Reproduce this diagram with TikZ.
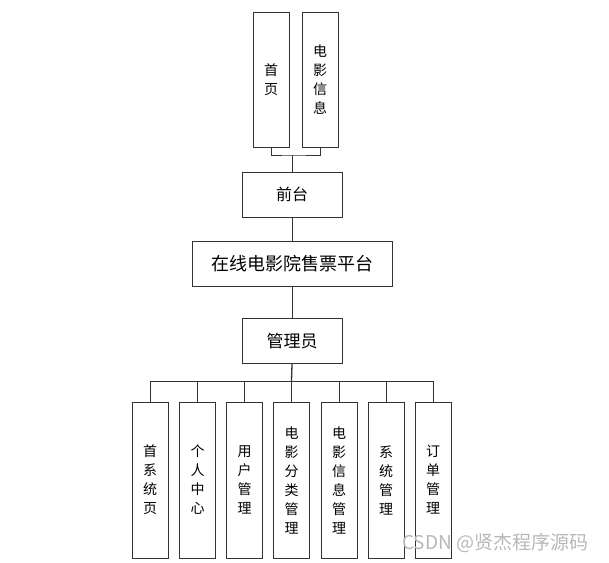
\documentclass[tikz,border=0pt]{standalone}
\usepackage{fontspec}
\newfontfamily\cjk{Noto Sans CJK SC}
\usepackage{tikz}
\usetikzlibrary{positioning}

\begin{document}
\begin{tikzpicture}[x=1pt,y=-1pt,
  box/.style={draw=black!80,line width=0.9pt,fill=white,minimum width=100pt,minimum height=45pt,inner sep=0pt,font=\cjk\fontsize{16}{16}\selectfont},
  tallbox/.style={draw=black!80,line width=0.9pt,fill=white,minimum width=36pt,inner sep=0pt,align=center,font=\cjk\fontsize{14}{19}\selectfont},
  link/.style={draw=black!80,line width=0.9pt}]
\useasboundingbox (0,0) rectangle (609,562);
% top level
\node[tallbox,minimum height=135pt] (shouye) at (271,79.5) {首\\页};
\node[tallbox,minimum height=135pt] (dyxx) at (320,79.5) {电\\影\\信\\息};
\node[box] (qiantai) at (292,194.5) {前台};
\node[box,minimum width=200pt,font=\cjk\fontsize{18}{18}\selectfont] (pingtai) at (292,264) {在线电影院售票平台};
\node[box,font=\cjk\fontsize{17}{17}\selectfont] (guanli) at (292,341) {管理员};
% bottom row
\node[tallbox,minimum height=156pt] (xtsy) at (150,480) {首\\系\\统\\页};
\node[tallbox,minimum height=156pt] (grzx) at (197.5,480) {个\\人\\中\\心};
\node[tallbox,minimum height=156pt] (yhgl) at (244.5,480) {用\\户\\管\\理};
\node[tallbox,minimum height=156pt] (flgl) at (291.5,480) {电\\影\\分\\类\\管\\理};
\node[tallbox,minimum height=156pt] (xxgl) at (339,480) {电\\影\\信\\息\\管\\理};
\node[tallbox,minimum height=156pt] (xtgl) at (386,480) {系\\统\\管\\理};
\node[tallbox,minimum height=156pt] (ddgl) at (433,480) {订\\单\\管\\理};
% connectors
\coordinate (topbus) at (292,155);
\coordinate (bus) at (291.5,381);
\draw[link] (shouye.south) |- (topbus) -| (dyxx.south);
\draw[link] (topbus) -- (qiantai.north);
\draw[link] (qiantai.south) -- (pingtai.north);
\draw[link] (pingtai.south) -- (guanli.north);
\draw[link,line width=1.3pt] (guanli.south) -- (bus);
\foreach \n in {xtsy,grzx,yhgl,flgl,xxgl,xtgl,ddgl}
  \draw[link] (bus) -| (\n.north);
\node[anchor=west,inner sep=0pt,text=black!28,font=\cjk\fontsize{19}{19}\selectfont] (mark) at (402,543) {CSDN @贤杰程序源码};
\end{tikzpicture}
\end{document}
